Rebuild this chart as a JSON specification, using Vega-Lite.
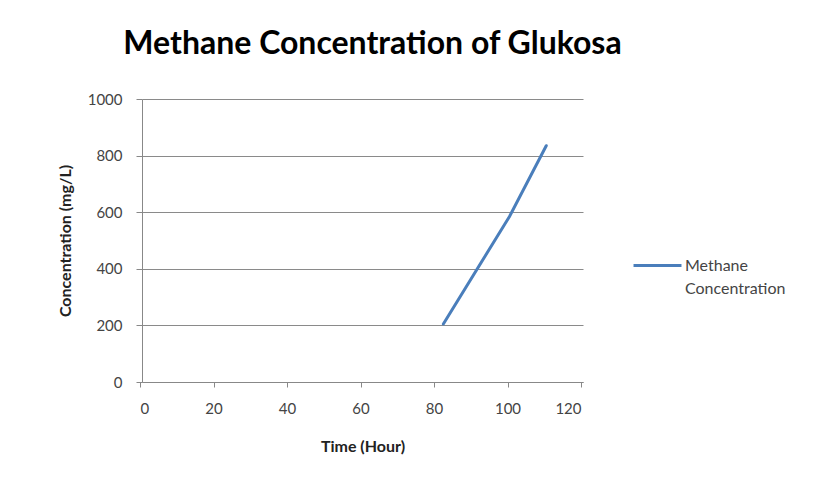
{
  "$schema": "https://vega.github.io/schema/vega-lite/v6.json",
  "width": 441,
  "height": 283,
  "autosize": "none",
  "padding": {"left": 142, "top": 99, "right": 252, "bottom": 100},
  "background": "white",
  "title": {
    "text": "Methane Concentration of Glukosa",
    "font": "Lato",
    "fontSize": 32,
    "fontWeight": "bold",
    "color": "#000000",
    "anchor": "middle",
    "dx": 10,
    "offset": 31
  },
  "data": {
    "values": [
      {"time": 82, "conc": 205, "series": "Methane Concentration"},
      {"time": 100, "conc": 585, "series": "Methane Concentration"},
      {"time": 110, "conc": 835, "series": "Methane Concentration"}
    ]
  },
  "mark": {"type": "line", "strokeWidth": 3, "strokeCap": "round"},
  "encoding": {
    "x": {
      "field": "time",
      "type": "quantitative",
      "scale": {"domain": [0, 120], "nice": false},
      "axis": {
        "title": "Time (Hour)",
        "values": [0, 20, 40, 60, 80, 100, 120],
        "format": "d",
        "grid": false,
        "domainColor": "#888888",
        "tickColor": "#888888",
        "tickSize": 5,
        "tickOffset": -2,
        "labelPadding": 14,
        "labelFont": "Lato",
        "labelFontSize": 15,
        "labelColor": "#444444",
        "titleFont": "Lato",
        "titleFontSize": 16,
        "titleFontWeight": "bold",
        "titleColor": "#222222",
        "titlePadding": 22
      }
    },
    "y": {
      "field": "conc",
      "type": "quantitative",
      "scale": {"domain": [0, 1000], "nice": false},
      "axis": {
        "title": "Concentration (mg/L)",
        "values": [0, 200, 400, 600, 800, 1000],
        "format": "d",
        "grid": true,
        "gridColor": "#8a8a8a",
        "gridWidth": 1,
        "domainColor": "#888888",
        "tickColor": "#888888",
        "tickSize": 6,
        "labelPadding": 14,
        "labelFont": "Lato",
        "labelFontSize": 15,
        "labelColor": "#444444",
        "titleFont": "Lato",
        "titleFontSize": 16,
        "titleFontWeight": "bold",
        "titleColor": "#222222",
        "titlePadding": 14
      }
    },
    "color": {
      "field": "series",
      "type": "nominal",
      "scale": {"range": ["#4A7EBB"]},
      "legend": {
        "title": null,
        "orient": "none",
        "legendX": 490,
        "legendY": 141,
        "symbolType": "stroke",
        "symbolSize": 2300,
        "symbolStrokeWidth": 3,
        "labelExpr": "split(datum.label, ' ')",
        "labelFont": "Lato",
        "labelFontSize": 16,
        "labelColor": "#444444",
        "labelOffset": 2,
        "labelBaseline": "middle",
        "labelLimit": 200,
        "encode": {"labels": {"update": {"lineHeight": {"value": 23}}}}
      }
    }
  },
  "config": {"view": {"stroke": null}}
}
